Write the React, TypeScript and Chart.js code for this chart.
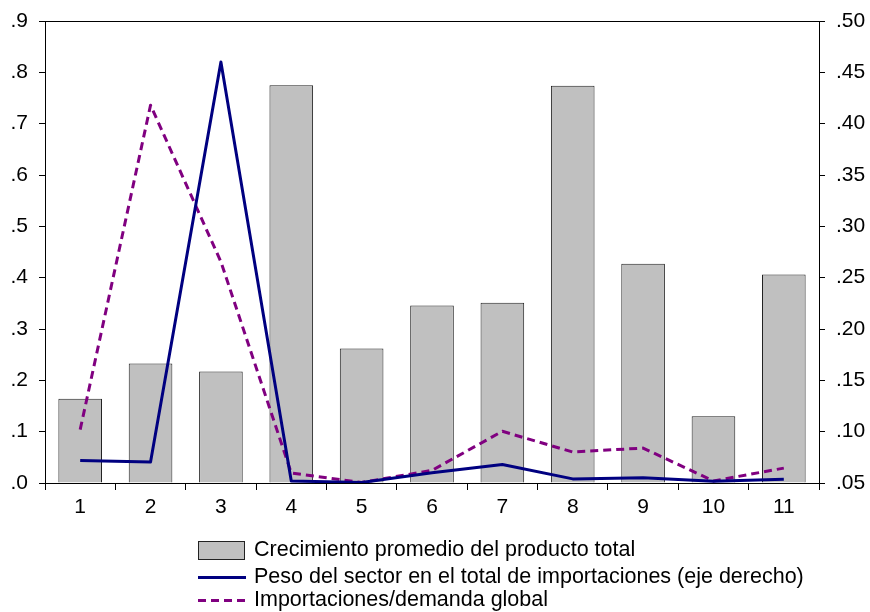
import React, { useEffect, useRef } from "react";
import { Chart, registerables } from "chart.js";

Chart.register(...registerables);

const categories = ["1", "2", "3", "4", "5", "6", "7", "8", "9", "10", "11"];
const crecimientoProducto = [0.164, 0.233, 0.217, 0.775, 0.262, 0.346, 0.351, 0.774, 0.427, 0.13, 0.406];
const pesoSector = [0.072, 0.0705, 0.46, 0.052, 0.0505, 0.06, 0.068, 0.054, 0.055, 0.0517, 0.0536];
const importacionesDemanda = [0.104, 0.736, 0.431, 0.0195, 0.001, 0.0247, 0.1007, 0.0604, 0.068, 0.004, 0.029];

const legendLabels = [
  "Crecimiento promedio del producto total",
  "Peso del sector en el total de importaciones (eje derecho)",
  "Importaciones/demanda global",
];

const FONT = "'Liberation Sans', Arial, sans-serif";

const framePlugin = {
  id: "frame",
  afterDatasetsDraw(chart: any) {
    const { ctx, chartArea } = chart;
    ctx.save();
    ctx.strokeStyle = "#000";
    ctx.lineWidth = 1;
    ctx.strokeRect(
      Math.round(chartArea.left) + 0.5,
      Math.round(chartArea.top) + 0.5,
      Math.round(chartArea.right - chartArea.left),
      Math.round(chartArea.bottom - chartArea.top)
    );
    ctx.restore();
  },
};

export default function App() {
  const ref = useRef<HTMLCanvasElement | null>(null);

  useEffect(() => {
    if (!ref.current) return;
    const chart = new Chart(ref.current, {
      type: "bar",
      data: {
        labels: categories,
        datasets: [
          {
            type: "line",
            label: legendLabels[1],
            data: pesoSector,
            yAxisID: "y2",
            borderColor: "#000080",
            borderWidth: 3,
            borderJoinStyle: "round",
            pointRadius: 0,
            fill: false,
            tension: 0,
            order: 1,
          } as any,
          {
            type: "line",
            label: legendLabels[2],
            data: importacionesDemanda,
            yAxisID: "y",
            borderColor: "#800080",
            borderWidth: 3,
            borderDash: [8, 5],
            borderJoinStyle: "round",
            pointRadius: 0,
            fill: false,
            tension: 0,
            order: 2,
          } as any,
          {
            type: "bar",
            label: legendLabels[0],
            data: crecimientoProducto,
            yAxisID: "y",
            backgroundColor: "#C0C0C0",
            borderColor: "#222",
            borderWidth: 1,
            categoryPercentage: 1,
            barPercentage: 0.62,
            order: 3,
          } as any,
        ],
      },
      options: {
        responsive: false,
        animation: false,
        devicePixelRatio: 1,
        layout: { padding: { top: 21, bottom: 89, left: 0, right: 0 } },
        plugins: {
          legend: { display: false },
          tooltip: { enabled: false },
        },
        scales: {
          x: {
            type: "category",
            offset: true,
            grid: {
              offset: true,
              drawOnChartArea: false,
              drawTicks: true,
              tickLength: 7,
              color: "#000",
            },
            border: { display: true, color: "#000" },
            ticks: {
              color: "#000",
              font: { family: FONT, size: 21 },
              padding: 5,
              maxRotation: 0,
            },
            afterFit(scale: any) {
              scale.height = 40;
              scale.paddingLeft = 0;
              scale.paddingRight = 0;
            },
          },
          y: {
            type: "linear",
            position: "left",
            min: 0,
            max: 0.9,
            ticks: {
              stepSize: 0.1,
              color: "#000",
              font: { family: FONT, size: 21 },
              padding: 11,
              callback: (v: any) => Number(v).toFixed(1).replace(/^0/, ""),
            },
            grid: { drawOnChartArea: false, drawTicks: true, tickLength: 6, color: "#000" },
            border: { display: true, color: "#000" },
            afterFit(scale: any) {
              scale.width = 45;
              scale.paddingTop = 0;
              scale.paddingBottom = 0;
            },
          },
          y2: {
            type: "linear",
            position: "right",
            min: 0.05,
            max: 0.5,
            ticks: {
              stepSize: 0.05,
              color: "#000",
              font: { family: FONT, size: 21 },
              padding: 11,
              callback: (v: any) => Number(v).toFixed(2).replace(/^0/, ""),
            },
            grid: { drawOnChartArea: false, drawTicks: true, tickLength: 6, color: "#000" },
            border: { display: true, color: "#000" },
            afterFit(scale: any) {
              scale.width = 51;
              scale.paddingTop = 0;
              scale.paddingBottom = 0;
            },
          },
        },
      },
      plugins: [framePlugin],
    });
    return () => chart.destroy();
  }, []);

  const textStyle: React.CSSProperties = {
    position: "absolute",
    left: 254,
    fontFamily: FONT,
    fontSize: 21.5,
    lineHeight: "23px",
    color: "#000",
    whiteSpace: "nowrap",
  };

  return (
    <div style={{ position: "fixed", left: 0, top: 0, width: 870, height: 612, background: "#fff" }}>
      <canvas ref={ref} width={870} height={612} style={{ display: "block", width: 870, height: 612 }} />
      <div
        style={{
          position: "absolute",
          left: 198,
          top: 541,
          width: 47,
          height: 19,
          background: "#C0C0C0",
          border: "1px solid #222",
          boxSizing: "border-box",
        }}
      />
      <div style={{ ...textStyle, top: 538 }}>{legendLabels[0]}</div>
      <div style={{ position: "absolute", left: 198, top: 576, width: 48, height: 3, background: "#000080" }} />
      <div style={{ ...textStyle, top: 565 }}>{legendLabels[1]}</div>
      <div
        style={{
          position: "absolute",
          left: 198,
          top: 599,
          width: 48,
          height: 3,
          background: "repeating-linear-gradient(to right, #800080 0px, #800080 8px, transparent 8px, transparent 13px)",
        }}
      />
      <div style={{ ...textStyle, top: 588 }}>{legendLabels[2]}</div>
    </div>
  );
}
